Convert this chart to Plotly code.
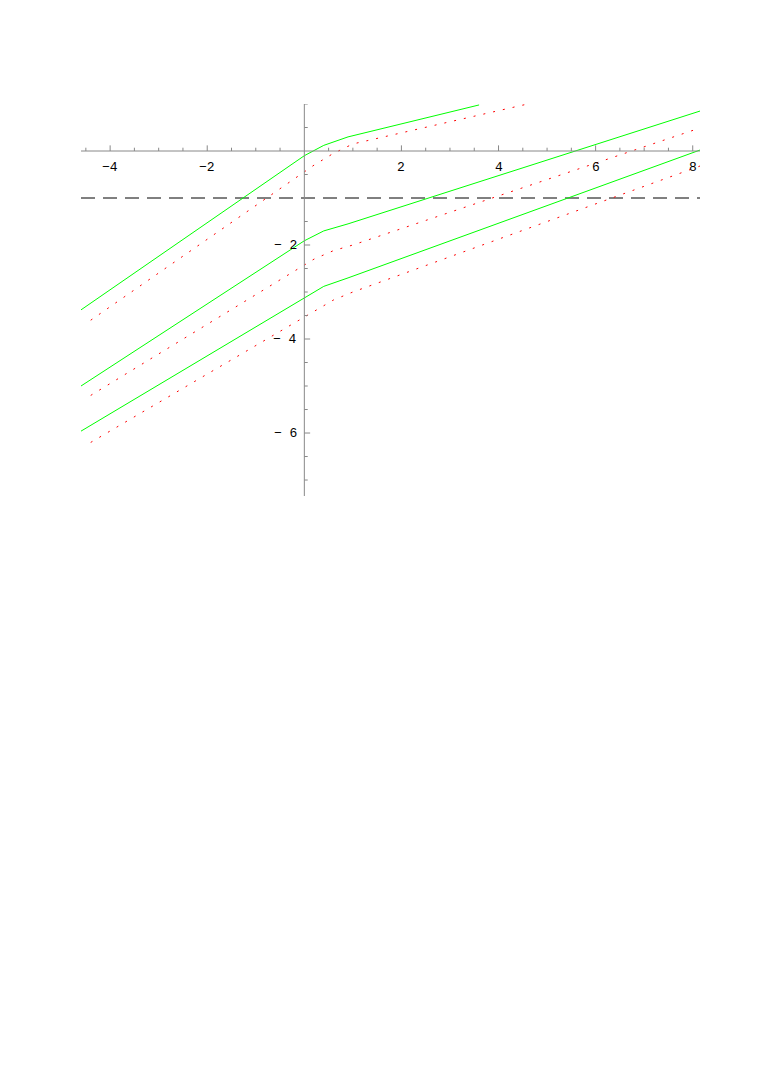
import plotly.graph_objects as go
import numpy as np

g1x=[-4.6,0.0,0.4,0.9,3.6]; g1y=[-3.38,-0.1,0.12,0.3,0.98]
r1x=[-4.4,0.2,0.6,1.0,4.6]; r1y=[-3.6,-0.3,-0.05,0.15,1.0]
g2x=[-4.6,0.0,0.4,0.9,8.15]; g2y=[-5.0,-1.91,-1.7,-1.55,0.85]
r2x=[-4.4,0.2,0.6,1.0,8.15]; r2y=[-5.2,-2.3,-2.12,-2.0,0.49]
g3x=[-4.6,0.0,0.4,0.9,8.15]; g3y=[-5.96,-3.13,-2.88,-2.7,0.02]
r3x=[-4.4,0.2,0.6,1.0,8.15]; r3y=[-6.2,-3.4,-3.17,-3.0,-0.32]
hline=-1
xticks=[-4,-2,2,4,6,8]; yticks=[-2,-4,-6]

fig=go.Figure()
fig.add_trace(go.Scatter(x=[-4.6,8.15],y=[hline,hline],mode='lines',line=dict(color='black',width=1,dash='14px,8px')))
for x,y in [(g1x,g1y),(g2x,g2y),(g3x,g3y)]:
    fig.add_trace(go.Scatter(x=x,y=y,mode='lines',line=dict(color='#00ff00',width=1)))
for x,y in [(r1x,r1y),(r2x,r2y),(r3x,r3y)]:
    fig.add_trace(go.Scatter(x=x,y=y,mode='lines',line=dict(color='red',width=1,dash='2px,8px')))
shapes=[dict(type='line',xref='x',yref='y',x0=-4.6,x1=8.15,y0=0,y1=0,line=dict(color='#888',width=1)),
        dict(type='line',xref='x',yref='y',x0=0,x1=0,y0=1.0,y1=-7.34,line=dict(color='#888',width=1))]
for t in np.arange(-4.5,8.01,0.5):
    if abs(t)<1e-9: continue
    h=0.12 if abs(t-round(t))<1e-9 and round(t)%2==0 else 0.07
    shapes.append(dict(type='line',xref='x',yref='y',x0=t,x1=t,y0=0,y1=h,line=dict(color='#888',width=1)))
for t in np.arange(-7,1.01,0.5):
    if abs(t)<1e-9: continue
    h=0.12 if abs(t-round(t))<1e-9 and round(t)%2==0 else 0.07
    shapes.append(dict(type='line',xref='x',yref='y',x0=0,x1=h,y0=t,y1=t,line=dict(color='#888',width=1)))
ann=[]
for t in xticks:
    ann.append(dict(x=t,y=-0.36,xref='x',yref='y',text=str(t).replace('-','\u2212'),showarrow=False,font=dict(family='Liberation Mono',size=13,color='black')))
for t in yticks:
    ann.append(dict(x=-0.12,y=t,xref='x',yref='y',xanchor='right',text=str(t).replace('-','\u2212 '),showarrow=False,font=dict(family='Liberation Mono',size=13,color='black')))
fig.update_layout(width=761,height=1072,margin=dict(l=73,r=69,t=96,b=584),showlegend=False,
    plot_bgcolor='white',paper_bgcolor='white',shapes=shapes,annotations=ann,
    xaxis=dict(range=[-4.6,8.15],visible=False),yaxis=dict(range=[-7.34,1.0],visible=False))
fig.write_html("out.html")
